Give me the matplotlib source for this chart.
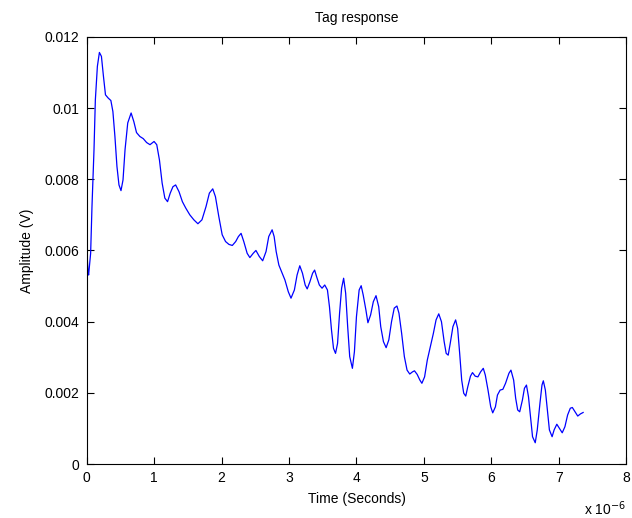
import numpy as np
import matplotlib.pyplot as plt

# time axis in microseconds, amplitude in millivolts
time_us = [
    0.00, 0.02, 0.03, 0.06, 0.08, 0.11, 0.13, 0.16, 0.19, 0.22,
    0.25, 0.28, 0.32, 0.36, 0.39, 0.42, 0.45, 0.48, 0.51, 0.54,
    0.57, 0.61, 0.66, 0.70, 0.74, 0.79, 0.84, 0.89, 0.94, 1.00,
    1.04, 1.08, 1.12, 1.16, 1.20, 1.24, 1.28, 1.32, 1.37, 1.42,
    1.47, 1.53, 1.59, 1.65, 1.71, 1.77, 1.82, 1.87, 1.91, 1.96,
    2.01, 2.06, 2.11, 2.16, 2.21, 2.25, 2.29, 2.33, 2.38, 2.42,
    2.47, 2.51, 2.56, 2.61, 2.66, 2.70, 2.75, 2.78, 2.81, 2.85,
    2.90, 2.94, 2.99, 3.03, 3.08, 3.12, 3.16, 3.20, 3.24, 3.27,
    3.31, 3.35, 3.38, 3.41, 3.45, 3.49, 3.53, 3.57, 3.60, 3.63,
    3.66, 3.69, 3.72, 3.75, 3.78, 3.81, 3.84, 3.87, 3.90, 3.94,
    3.97, 4.00, 4.04, 4.07, 4.10, 4.14, 4.17, 4.21, 4.25, 4.29,
    4.33, 4.36, 4.40, 4.44, 4.48, 4.52, 4.56, 4.60, 4.63, 4.67,
    4.71, 4.75, 4.79, 4.83, 4.86, 4.90, 4.94, 4.97, 5.01, 5.05,
    5.09, 5.14, 5.18, 5.22, 5.26, 5.30, 5.33, 5.36, 5.39, 5.43,
    5.47, 5.50, 5.53, 5.56, 5.59, 5.62, 5.65, 5.69, 5.72, 5.76,
    5.80, 5.84, 5.88, 5.91, 5.95, 5.99, 6.02, 6.06, 6.09, 6.13,
    6.17, 6.21, 6.26, 6.29, 6.33, 6.36, 6.39, 6.42, 6.46, 6.49,
    6.52, 6.55, 6.58, 6.61, 6.65, 6.68, 6.72, 6.75, 6.77, 6.80,
    6.83, 6.86, 6.90, 6.93, 6.97, 7.01, 7.05, 7.09, 7.13, 7.17,
    7.20, 7.24, 7.28, 7.32, 7.36,
]
amp_mv = [
    6.11, 5.45, 5.31, 5.92, 7.23, 8.83, 10.23, 11.17, 11.56, 11.45,
    10.89, 10.37, 10.28, 10.21, 9.90, 9.20, 8.36, 7.84, 7.68, 7.98,
    8.83, 9.58, 9.86, 9.62, 9.31, 9.20, 9.14, 9.03, 8.97, 9.06,
    8.97, 8.54, 7.89, 7.47, 7.37, 7.61, 7.79, 7.84, 7.65, 7.37,
    7.19, 7.00, 6.86, 6.75, 6.86, 7.23, 7.61, 7.73, 7.51, 6.95,
    6.44, 6.25, 6.17, 6.14, 6.25, 6.39, 6.48, 6.25, 5.92, 5.80,
    5.92, 6.00, 5.83, 5.71, 5.97, 6.39, 6.58, 6.39, 5.97, 5.59,
    5.36, 5.17, 4.84, 4.66, 4.89, 5.31, 5.57, 5.36, 5.03, 4.92,
    5.12, 5.36, 5.45, 5.26, 5.03, 4.94, 5.03, 4.89, 4.42, 3.77,
    3.25, 3.11, 3.39, 4.24, 4.94, 5.22, 4.80, 3.86, 3.02, 2.69,
    3.16, 4.14, 4.89, 5.01, 4.75, 4.33, 3.97, 4.19, 4.56, 4.73,
    4.42, 3.86, 3.44, 3.27, 3.49, 4.00, 4.38, 4.44, 4.24, 3.67,
    3.02, 2.64, 2.53, 2.59, 2.62, 2.52, 2.36, 2.27, 2.45, 2.92,
    3.25, 3.67, 4.05, 4.22, 4.00, 3.44, 3.11, 3.06, 3.39, 3.86,
    4.05, 3.81, 3.11, 2.36, 1.99, 1.91, 2.17, 2.47, 2.57, 2.47,
    2.45, 2.59, 2.69, 2.50, 2.08, 1.61, 1.44, 1.61, 1.94, 2.08,
    2.10, 2.27, 2.55, 2.64, 2.36, 1.85, 1.52, 1.47, 1.80, 2.13,
    2.22, 1.89, 1.33, 0.77, 0.60, 0.96, 1.71, 2.22, 2.34, 2.08,
    1.52, 0.96, 0.77, 0.96, 1.12, 1.00, 0.88, 1.05, 1.38, 1.57,
    1.59, 1.47, 1.35, 1.41, 1.45,
]

x_ticks = [0, 1, 2, 3, 4, 5, 6, 7, 8]
y_ticks = [0, 0.002, 0.004, 0.006, 0.008, 0.010, 0.012]

plt.rcParams["font.family"] = ["Liberation Sans", "DejaVu Sans"]
plt.rcParams["font.size"] = 10

fig = plt.figure(figsize=(6.32, 5.18), dpi=100)
ax = fig.add_axes([0.137, 0.104, 0.854, 0.825])

ax.plot(time_us, np.array(amp_mv) * 1e-3, color=(0, 0, 1), linewidth=0.9,
        solid_joinstyle="round")

ax.set_xlim(0, 8)
ax.set_ylim(0, 0.012)
ax.set_xticks(x_ticks)
ax.set_yticks(y_ticks)
ax.set_xticklabels([f"{v:g}" for v in x_ticks])
ax.set_yticklabels([f"{v:g}" for v in y_ticks])

ax.tick_params(direction="in", length=5, width=0.8, top=True, right=True,
               labelsize=10, colors="black", pad=5)
for spine in ax.spines.values():
    spine.set_linewidth(0.8)
    spine.set_color("black")

ax.set_xlabel("Time (Seconds)", fontsize=10, labelpad=5)
ax.set_ylabel("Amplitude (V)", fontsize=10, labelpad=8)
ax.set_title("Tag response", fontsize=10, pad=11)

# scale factor of the time axis
ax.text(1.0, -0.105, r"x 10$^{-6}$", transform=ax.transAxes,
        ha="right", va="center", fontsize=10)

fig.savefig("out.png", dpi=100)
